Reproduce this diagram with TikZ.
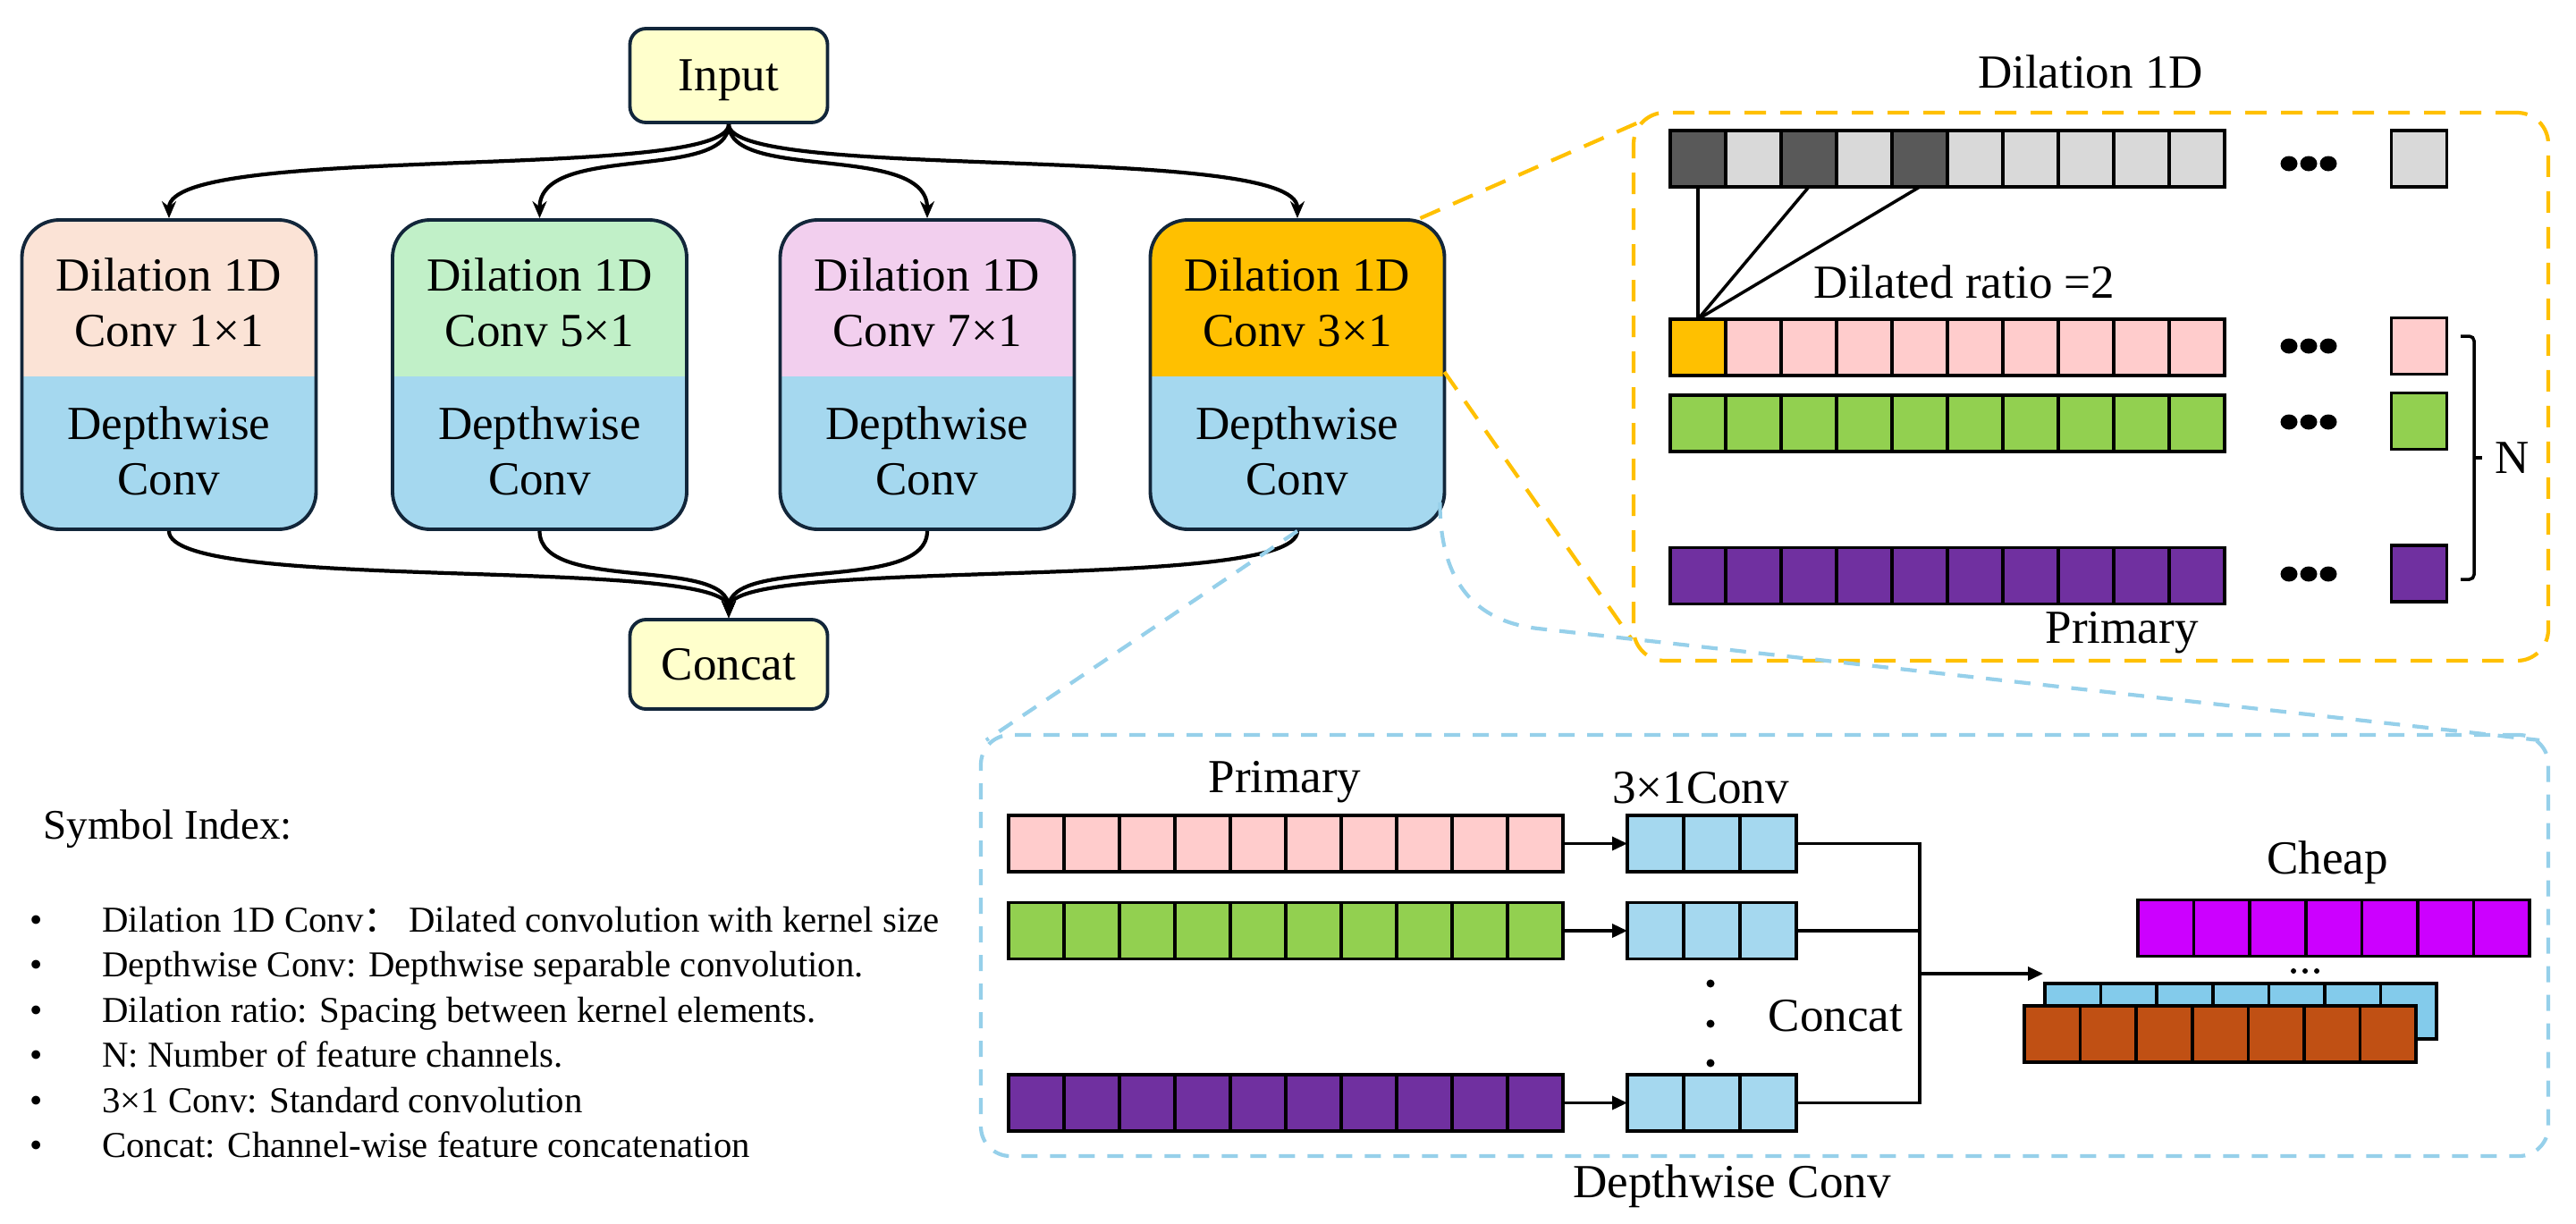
\documentclass[tikz,border=0pt]{standalone}
\usepackage{fontspec}
\setmainfont{Liberation Serif}
\newfontfamily\cjkfont{Noto Sans CJK SC}
\usepackage{tikz}
\usetikzlibrary{arrows.meta, positioning, calc}

\definecolor{ioyellow}{RGB}{255,255,204}
\definecolor{navy}{RGB}{18,38,58}
\definecolor{peach}{RGB}{251,227,214}
\definecolor{mint}{RGB}{193,240,200}
\definecolor{lilac}{RGB}{242,207,238}
\definecolor{gold}{RGB}{255,192,0}
\definecolor{dwblue}{RGB}{165,216,239}
\definecolor{zoomblue}{RGB}{150,208,234}
\definecolor{celldark}{RGB}{89,89,89}
\definecolor{celllight}{RGB}{217,217,217}
\definecolor{rowpink}{RGB}{255,204,204}
\definecolor{rowgreen}{RGB}{146,208,80}
\definecolor{rowpurple}{RGB}{112,48,160}
\definecolor{rowmagenta}{RGB}{204,0,255}
\definecolor{rowsky}{RGB}{131,203,235}
\definecolor{rowbrown}{RGB}{192,80,20}

\begin{document}
\begin{tikzpicture}[font=\fontsize{15.1}{17.6}\selectfont,
  io/.style={draw=navy, line width=1.1pt, fill=ioyellow, rounded corners=0.18cm, minimum width=2.21cm, inner sep=0pt},
  branch/.style={draw=navy, line width=1.1pt, rounded corners=0.42cm, minimum width=3.29cm, minimum height=3.46cm, inner sep=0pt,
    path picture={\fill[dwblue, sharp corners] (path picture bounding box.south west) rectangle ([yshift=1.71cm]path picture bounding box.south east);}},
  cell/.style={draw=black, line width=1pt, minimum width=0.62cm, minimum height=0.63cm, inner sep=0pt, outer sep=0pt},
  flow/.style={line width=1.2pt, -{Stealth[length=0.19cm, width=0.16cm]}},
  feed/.style={line width=1pt, -{Triangle[length=0.17cm, width=0.15cm]}},
  yzoom/.style={draw=gold, line width=1.2pt, dash pattern=on 0.24cm off 0.16cm},
  bzoom/.style={draw=zoomblue, line width=1.2pt, dash pattern=on 0.18cm off 0.14cm},
  legend/.style={font=\fontsize{11.6}{14}\selectfont}]
\useasboundingbox (0,0) rectangle (28.81,-13.68);

% Input and output
\node[io, minimum height=1.05cm, text depth=0pt] (input) at (8.15,-0.845) {Input};
\node[io, minimum height=1.00cm] (concat) at (8.15,-7.43) {Concat};

% Dilated branches
\node[branch, fill=peach] (dil1) at (1.89,-4.19) {};
\node[branch, fill=mint] (dil2) at (6.035,-4.19) {};
\node[branch, fill=lilac] (dil3) at (10.37,-4.19) {};
\node[branch, fill=gold] (dil4) at (14.51,-4.19) {};
\node[align=center] (dil1top) at ([yshift=0.81cm]dil1.center) {Dilation 1D\\Conv 1×1};
\node[align=center] (dil2top) at ([yshift=0.81cm]dil2.center) {Dilation 1D\\Conv 5×1};
\node[align=center] (dil3top) at ([yshift=0.81cm]dil3.center) {Dilation 1D\\Conv 7×1};
\node[align=center] (dil4top) at ([yshift=0.81cm]dil4.center) {Dilation 1D\\Conv 3×1};
\node[align=center] (dil1bot) at ([yshift=-0.855cm]dil1.center) {Depthwise\\Conv};
\node[align=center] (dil2bot) at ([yshift=-0.855cm]dil2.center) {Depthwise\\Conv};
\node[align=center] (dil3bot) at ([yshift=-0.855cm]dil3.center) {Depthwise\\Conv};
\node[align=center] (dil4bot) at ([yshift=-0.855cm]dil4.center) {Depthwise\\Conv};

% Branch connectors
\foreach \b in {dil1,dil2,dil3,dil4} {
  \draw[flow] (input.south) .. controls +(0,-0.65) and +(0,0.85) .. (\b.north);
  \draw[flow] (\b.south) .. controls +(0,-0.7) and +(0,0.7) .. (concat.north);
}

% Dilation 1D detail
\node[yzoom, rounded corners=0.35cm, minimum width=10.23cm, minimum height=6.13cm] (dilzoom) at (23.385,-4.325) {};
\node (dilhead) at (23.38,-0.80) {Dilation 1D};
\foreach \i/\c in {0/celldark,1/celllight,2/celldark,3/celllight,4/celldark,5/celllight,6/celllight,7/celllight,8/celllight,9/celllight}
  \node[cell, fill=\c] (ug\i) at (18.99+0.62*\i,-1.775) {};
\node[cell, fill=gold] (up0) at (18.99,-3.885) {};
\foreach \i in {1,...,9}
  \node[cell, fill=rowpink] (up\i) at (18.99+0.62*\i,-3.885) {};
\foreach \i in {0,...,9} {
  \node[cell, fill=rowgreen] (ugr\i) at (18.99+0.62*\i,-4.735) {};
  \node[cell, fill=rowpurple] (uv\i) at (18.99+0.62*\i,-6.44) {};
}
\node[cell, fill=celllight] (ugend) at (27.055,-1.775) {};
\node[cell, fill=rowpink] (upend) at (27.055,-3.87) {};
\node[cell, fill=rowgreen] (ugrend) at (27.055,-4.71) {};
\node[cell, fill=rowpurple] (uvend) at (27.055,-6.415) {};
\foreach \y in {-1.83,-3.87,-4.72,-6.42}
  \foreach \dx in {-0.22,0,0.22}
    \fill (25.82+\dx,\y) ellipse (0.095cm and 0.085cm);
\foreach \k in {ug0,ug2,ug4}
  \draw[line width=1pt] (\k.south) -- (up0.north);
\node (ratio) at (21.97,-3.15) {Dilated ratio =2};
\node (upprim) at (23.73,-7.08) {Primary};
\draw[line width=1pt, rounded corners=1.5pt] (27.52,-3.76) -- (27.67,-3.76) -- (27.67,-6.48) -- (27.52,-6.48);
\draw[line width=1pt] (27.67,-5.12) -- (27.76,-5.12);
\node (nlabel) at (28.10,-5.12) {N};
\draw[yzoom] ([xshift=-0.29cm]dil4.north east) -- ([xshift=0.10cm,yshift=-0.12cm]dilzoom.north west);
\draw[yzoom] ([xshift=-0.02cm,yshift=0.03cm]dil4.east) -- ([yshift=0.26cm]dilzoom.south west);

% Depthwise detail
\node[bzoom, rounded corners=0.33cm, minimum width=17.53cm, minimum height=4.71cm] (dwzoom) at (19.735,-10.575) {};
\node (dwcap) at (19.37,-13.27) {Depthwise Conv};
\coordinate (dwbend) at (17.20,-7.03);
\draw[bzoom] (dil4.south) -- ([xshift=0.08cm,yshift=-0.08cm]dwzoom.north west);
\draw[bzoom] ([xshift=-0.07cm,yshift=0.32cm]dil4.south east) .. controls +(0,-1.0) and +(-0.6,0.07) .. (dwbend) -- ([xshift=-0.12cm,yshift=-0.08cm]dwzoom.north east);
\foreach \i in {0,...,9} {
  \node[cell, fill=rowpink] (lp\i) at (11.59+0.62*\i,-9.435) {};
  \node[cell, fill=rowgreen] (lg\i) at (11.59+0.62*\i,-10.41) {};
  \node[cell, fill=rowpurple] (lv\i) at (11.59+0.62*\i,-12.335) {};
}
\foreach \i in {0,1,2} {
  \node[cell, fill=dwblue, minimum width=0.63cm] (cp\i) at (18.515+0.63*\i,-9.435) {};
  \node[cell, fill=dwblue, minimum width=0.63cm] (cg\i) at (18.515+0.63*\i,-10.41) {};
  \node[cell, fill=dwblue, minimum width=0.63cm] (cv\i) at (18.515+0.63*\i,-12.335) {};
}
\node (lwprim) at (14.37,-8.75) {Primary};
\node (convlab) at (19.02,-8.81) {3×1Conv};
\foreach \y in {-11.00,-11.45,-11.89}
  \fill (19.13,\y) circle (0.045cm);
\node (catlab) at (20.53,-11.36) {Concat};
\draw[feed] (lp9.east) -- (cp0.west);
\draw[feed] (lg9.east) -- (cg0.west);
\draw[feed] (lv9.east) -- (cv0.west);
\coordinate (catjoin) at (21.47,-10.89);
\coordinate (cheapin) at (22.85,-10.89);
\draw[line width=1pt] (cp2.east) -| (catjoin) |- (cv2.east);
\draw[line width=1pt] (cg2.east) -- (cg2.east -| catjoin);
\draw[feed] (catjoin) -- (cheapin);

% Cheap features
\node (cheaplab) at (26.03,-9.65) {Cheap};
\foreach \i in {0,...,6}
  \node[cell, fill=rowmagenta, minimum width=0.626cm] (ch\i) at (24.223+0.626*\i,-10.38) {};
\foreach \i in {0,...,6}
  \node[cell, fill=rowsky, minimum width=0.626cm, minimum height=0.62cm] (sk\i) at (23.183+0.626*\i,-11.31) {};
\foreach \i in {0,...,6}
  \node[cell, fill=rowbrown, minimum width=0.626cm] (br\i) at (22.953+0.626*\i,-11.565) {};
\foreach \dx in {-0.13,0,0.13}
  \fill (25.78+\dx,-10.86) circle (0.03cm);

% Symbol index
\node[anchor=base west, font=\fontsize{13.4}{16}\selectfont] (symidx) at (0.36,-9.38) {Symbol Index:};
\node[legend, anchor=base] (bul1) at (0.41,-10.42) {•};
\node[legend, anchor=base] (bul2) at (0.41,-10.925) {•};
\node[legend, anchor=base] (bul3) at (0.41,-11.43) {•};
\node[legend, anchor=base] (bul4) at (0.41,-11.935) {•};
\node[legend, anchor=base] (bul5) at (0.41,-12.44) {•};
\node[legend, anchor=base] (bul6) at (0.41,-12.945) {•};
\node[legend, anchor=base west] (leg1) at (1.02,-10.42) {Dilation 1D Conv{\cjkfont ：}\ Dilated convolution with kernel size};
\node[legend, anchor=base west] (leg2) at (1.02,-10.925) {Depthwise Conv: Depthwise separable convolution.};
\node[legend, anchor=base west] (leg3) at (1.02,-11.43) {Dilation ratio: Spacing between kernel elements.};
\node[legend, anchor=base west] (leg4) at (1.02,-11.935) {N: Number of feature channels.};
\node[legend, anchor=base west] (leg5) at (1.02,-12.44) {3×1 Conv: Standard convolution};
\node[legend, anchor=base west] (leg6) at (1.02,-12.945) {Concat: Channel-wise feature concatenation};
\end{tikzpicture}
\end{document}
